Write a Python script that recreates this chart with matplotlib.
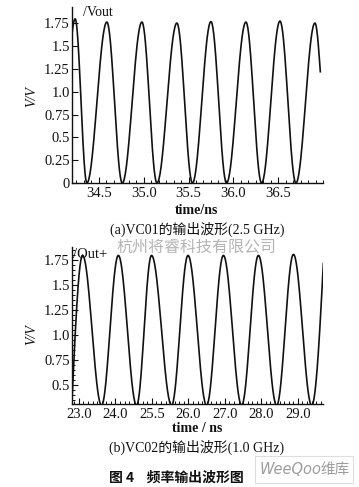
import numpy as np
import matplotlib
matplotlib.use('Agg')
import matplotlib.pyplot as plt
from matplotlib.ticker import FixedLocator, MultipleLocator, FixedFormatter
from matplotlib.patches import Rectangle

# ---------------- data ----------------
# Panel (a): VCO1 output; first/last points are the trace ends, the rest are peaks/troughs
a_time = [34.195, 34.235, 34.366, 34.589, 34.761, 34.98, 35.148, 35.37, 35.544,
          35.75, 35.924, 36.14, 36.315, 36.52, 36.698, 36.91, 36.97]
a_volt = [1.60, 1.80, 0.0, 1.765, 0.0, 1.765, 0.0, 1.754, 0.0,
          1.77, 0.0, 1.765, 0.0, 1.776, 0.0, 1.754, 1.22]
a_xticks = [34.5, 35.0, 35.5, 36.0, 36.5]
a_xlabels = ['34.5', '35.0', '35.5', '36.0', '36.5']
a_yticks = [0, 0.25, 0.5, 0.75, 1.0, 1.25, 1.5, 1.75]
a_ylabels = ['0', '0.25', '0.5', '0.75', '1.0', '1.25', '1.5', '1.75']

# Panel (b): VCO2 output
b_time = [22.81, 23.10, 23.62, 24.08, 24.58, 24.99, 25.54, 25.99, 26.50,
          26.96, 27.46, 27.92, 28.42, 28.88, 29.38, 29.70]
b_volt = [0.35, 1.80, 0.30, 1.80, 0.30, 1.80, 0.30, 1.80, 0.30,
          1.80, 0.30, 1.80, 0.30, 1.81, 0.30, 1.72]
b_xticks = [23, 24, 25, 26, 27, 28, 29]
b_xlabels = ['23.0', '24.0', '25.5', '26.0', '27.0', '28.0', '29.0']
b_yticks = [0.5, 0.75, 1.0, 1.25, 1.5, 1.75]
b_ylabels = ['0.5', '0.75', '1.0', '1.25', '1.5', '1.75']


def smooth_trace(t, v, n=40):
    """Render a smooth waveform through the read extrema (half-cosine shape
    between successive peaks/troughs; quarter-cosine at the trace ends)."""
    xs, ys = [], []
    last = len(t) - 2
    for i in range(len(t) - 1):
        f = np.linspace(0, 1, n)
        if i == 0:
            s = np.sin(np.pi * f / 2)
        elif i == last:
            s = 1 - np.cos(np.pi * f / 2)
        else:
            s = (1 - np.cos(np.pi * f)) / 2
        xs.append(t[i] + (t[i + 1] - t[i]) * f)
        ys.append(v[i] + (v[i + 1] - v[i]) * s)
    return np.concatenate(xs), np.concatenate(ys)


serif = ['Liberation Serif', 'Noto Sans CJK SC']
cjk = ['Noto Sans CJK SC', 'DejaVu Sans']
plt.rcParams['font.family'] = serif

fig = plt.figure(figsize=(3.59, 4.87), dpi=100)
fig.patch.set_facecolor('white')


def style_axes(ax):
    for s in ['top', 'right']:
        ax.spines[s].set_visible(False)
    for s in ['left', 'bottom']:
        ax.spines[s].set_linewidth(1.0)
        ax.spines[s].set_color('#111111')
    ax.tick_params(which='both', direction='in', top=False, right=False,
                   colors='#111111', labelsize=10.5)
    ax.tick_params(which='major', length=4, width=0.8)
    ax.tick_params(which='minor', length=2.2, width=0.7)
    ax.tick_params(axis='y', pad=1.5)
    ax.tick_params(axis='x', pad=3)


# ---------------- panel (a) ----------------
ax1 = fig.add_axes([72 / 359, 1 - 183 / 487, 251 / 359, 176 / 487])
x, y = smooth_trace(a_time, a_volt)
ax1.plot(x, y, color='#111111', lw=1.2)
ax1.set_xlim(34.2, 37.0)
ax1.set_ylim(0, 1.93)
style_axes(ax1)
ax1.xaxis.set_major_locator(FixedLocator(a_xticks))
ax1.xaxis.set_major_formatter(FixedFormatter(a_xlabels))
ax1.xaxis.set_minor_locator(MultipleLocator(0.5 / 6))
ax1.yaxis.set_major_locator(FixedLocator(a_yticks))
ax1.yaxis.set_major_formatter(FixedFormatter(a_ylabels))

# ---------------- panel (b) ----------------
ax2 = fig.add_axes([72 / 359, 1 - 404 / 487, 251 / 359, 157 / 487])
x, y = smooth_trace(b_time, b_volt)
ax2.plot(x, y, color='#111111', lw=1.2)
ax2.set_xlim(22.81, 29.69)
ax2.set_ylim(0.314, 1.884)
style_axes(ax2)
ax2.xaxis.set_major_locator(FixedLocator(b_xticks))
ax2.xaxis.set_major_formatter(FixedFormatter(b_xlabels))
ax2.xaxis.set_minor_locator(MultipleLocator(0.125))
ax2.yaxis.set_major_locator(FixedLocator(b_yticks))
ax2.yaxis.set_major_formatter(FixedFormatter(b_ylabels))
ax2.yaxis.set_minor_locator(MultipleLocator(0.05))


def fx(px):
    return px / 359


def fy(py):
    return 1 - py / 487


# trace names
fig.text(fx(83), fy(13), '/Vout', fontsize=10, ha='left', va='center', color='#111111')
fig.text(fx(73), fy(254), '/Out+', fontsize=10.5, ha='left', va='center', color='#111111')

# y labels
fig.text(fx(32), fy(97), 'V/V', fontsize=10, style='italic', rotation=90,
         ha='center', va='center', color='#111111')
fig.text(fx(32), fy(335), 'V/V', fontsize=10, style='italic', rotation=90,
         ha='center', va='center', color='#111111')

# x labels
fig.text(fx(197), fy(210), 'time/ns', fontsize=10, weight='bold',
         ha='center', va='center', color='#111111')
fig.text(fx(197), fy(429), 'time / ns', fontsize=10, weight='bold',
         ha='center', va='center', color='#111111')

# captions
fig.text(fx(197), fy(229), '(a)VC01的输出波形(2.5 GHz)', fontsize=10,
         ha='center', va='center', color='#111111', family=serif)
fig.text(fx(197), fy(447), '(b)VC02的输出波形(1.0 GHz)', fontsize=10,
         ha='center', va='center', color='#111111', family=serif)

# watermark
fig.text(fx(196), fy(247), '杭州将睿科技有限公司', fontsize=11.5,
         ha='center', va='center', color='#b4b4b4', family=cjk)

# figure title
fig.text(fx(176), fy(478), '图 4    频率输出波形图', fontsize=10, weight='bold',
         ha='center', va='center', color='#111111', family=cjk)

# logo box
fig.patches.append(Rectangle((fx(255), fy(483)), (353 - 255) / 359, (483 - 456) / 487,
                             transform=fig.transFigure, facecolor='white',
                             edgecolor='#dddddd', lw=0.8))
fig.text(fx(260), fy(470), 'WeeQoo', fontsize=10.5, style='italic',
         ha='left', va='center', color='#9c9c9c', family=['DejaVu Sans'])
fig.text(fx(350), fy(470), '维库', fontsize=10.5,
         ha='right', va='center', color='#9c9c9c', family=cjk)

fig.savefig('out.png', dpi=100, facecolor='white')
